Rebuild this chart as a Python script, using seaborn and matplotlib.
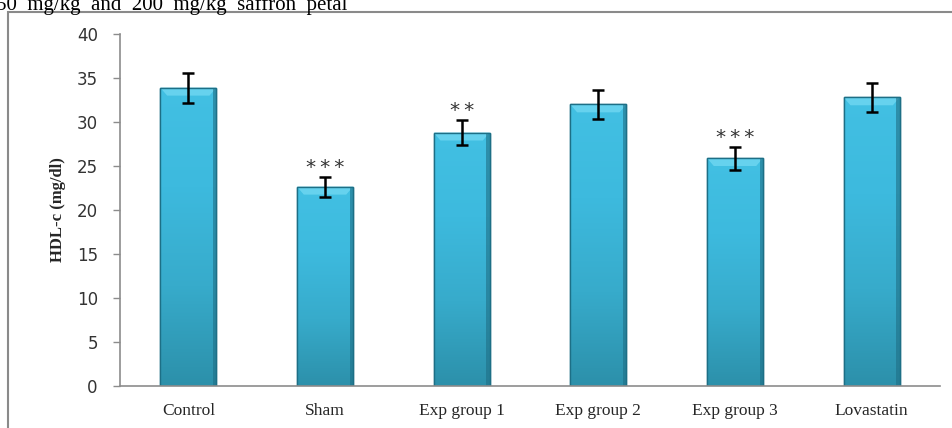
import numpy as np
import pandas as pd
import matplotlib
matplotlib.use("Agg")
import matplotlib.pyplot as plt
import seaborn as sns
from matplotlib.patches import Rectangle
from matplotlib.colors import LinearSegmentedColormap

groups = ["Control", "Sham", "Exp group 1", "Exp group 2", "Exp group 3", "Lovastatin"]
hdl_mean = [33.9, 22.65, 28.8, 32.0, 25.9, 32.8]
hdl_err = [1.7, 1.15, 1.4, 1.65, 1.3, 1.65]
signif = ["", "***", "**", "", "***", ""]
y_ticks = [0, 5, 10, 15, 20, 25, 30, 35, 40]

df = pd.DataFrame({"group": groups, "hdl": hdl_mean})

sns.set_style("white")
plt.rcParams["font.family"] = ["DejaVu Sans"]

fig = plt.figure(figsize=(9.52, 4.28), dpi=100)
ax = fig.add_axes([120 / 952, 1 - 386 / 428, 820 / 952, 352 / 428])

sns.barplot(data=df, x="group", y="hdl", order=groups, color="#3bb8dc",
            width=0.41, errorbar=None, ax=ax, saturation=1,
            edgecolor="#1d6f86", linewidth=1.0, zorder=2)

# vertical shading inside each bar: light cyan at the top, deeper teal at the base
shade = LinearSegmentedColormap.from_list(
    "bar_shade", ["#2c90aa", "#37abcb", "#3dbade", "#42c0e3"])
for patch in ax.patches:
    x0, y0 = patch.get_x(), patch.get_y()
    w, h = patch.get_width(), patch.get_height()
    grad = np.linspace(0, 1, 256).reshape(-1, 1)
    im = ax.imshow(grad, cmap=shade, origin="lower", aspect="auto",
                   extent=(x0, x0 + w, y0, y0 + h), zorder=2.1)
    im.set_clip_path(patch)
    # bevelled highlight strip along the top edge
    ax.add_patch(plt.Polygon(
        [(x0, y0 + h), (x0 + w, y0 + h), (x0 + w - 0.05, y0 + h - 0.9),
         (x0 + 0.05, y0 + h - 0.9)],
        closed=True, facecolor="#70d8f2", edgecolor="none", alpha=0.8, zorder=2.2))
    # darker rim on the right side for depth
    ax.add_patch(Rectangle((x0 + w - 0.025, y0), 0.025, h,
                           facecolor="#1f6f86", edgecolor="none", alpha=0.6, zorder=2.2))
    ax.add_patch(Rectangle((x0, y0), w, h, facecolor="none",
                           edgecolor="#1d6f86", linewidth=1.0, zorder=2.3))

xpos = np.arange(len(groups))
ax.errorbar(xpos, hdl_mean, yerr=hdl_err, fmt="none", ecolor="black",
            elinewidth=1.8, capsize=4.4, capthick=1.8, zorder=4)

# significance marks, spaced out like the printed figure
for x, m, e, s in zip(xpos, hdl_mean, hdl_err, signif):
    if s:
        ax.annotate("\u2009".join(s), (x, m + e), xytext=(0, 0),
                    textcoords="offset points", ha="center", va="bottom",
                    fontsize=14.5, color="#333333", family="DejaVu Sans")

ax.set_ylim(0, 40)
ax.set_xlim(-0.5, 5.5)
ax.set_yticks(y_ticks)
ax.tick_params(axis="y", which="major", length=5, width=1, color="#8c8c8c",
               labelsize=12, labelcolor="#333333", pad=11, direction="out", left=True)
ax.tick_params(axis="x", length=0, pad=12)
for lab in ax.get_xticklabels():
    lab.set_fontfamily(["Liberation Serif"])
    lab.set_fontsize(12.5)
ax.set_xlabel("")
ax.set_ylabel("HDL-c (mg/dl)", fontsize=12, fontweight="bold",
              fontfamily=["Liberation Serif"], labelpad=8)

for side in ["top", "right"]:
    ax.spines[side].set_visible(False)
for side in ["left", "bottom"]:
    ax.spines[side].set_color("#8c8c8c")
    ax.spines[side].set_linewidth(1.2)

# surrounding chart-area frame
fig.patches.append(Rectangle((8 / 952, -0.05), 1.0, 1 - 12 / 428 + 0.05,
                             transform=fig.transFigure, fill=False,
                             edgecolor="#8a8a8a", linewidth=1.5))

fig.text(-4 / 952, 1 - 10 / 428, "50  mg/kg  and  200  mg/kg  saffron  petal",
         ha="left", va="baseline", fontsize=15, fontfamily=["Liberation Serif"],
         color="black")

fig.savefig("out.png", dpi=100)
